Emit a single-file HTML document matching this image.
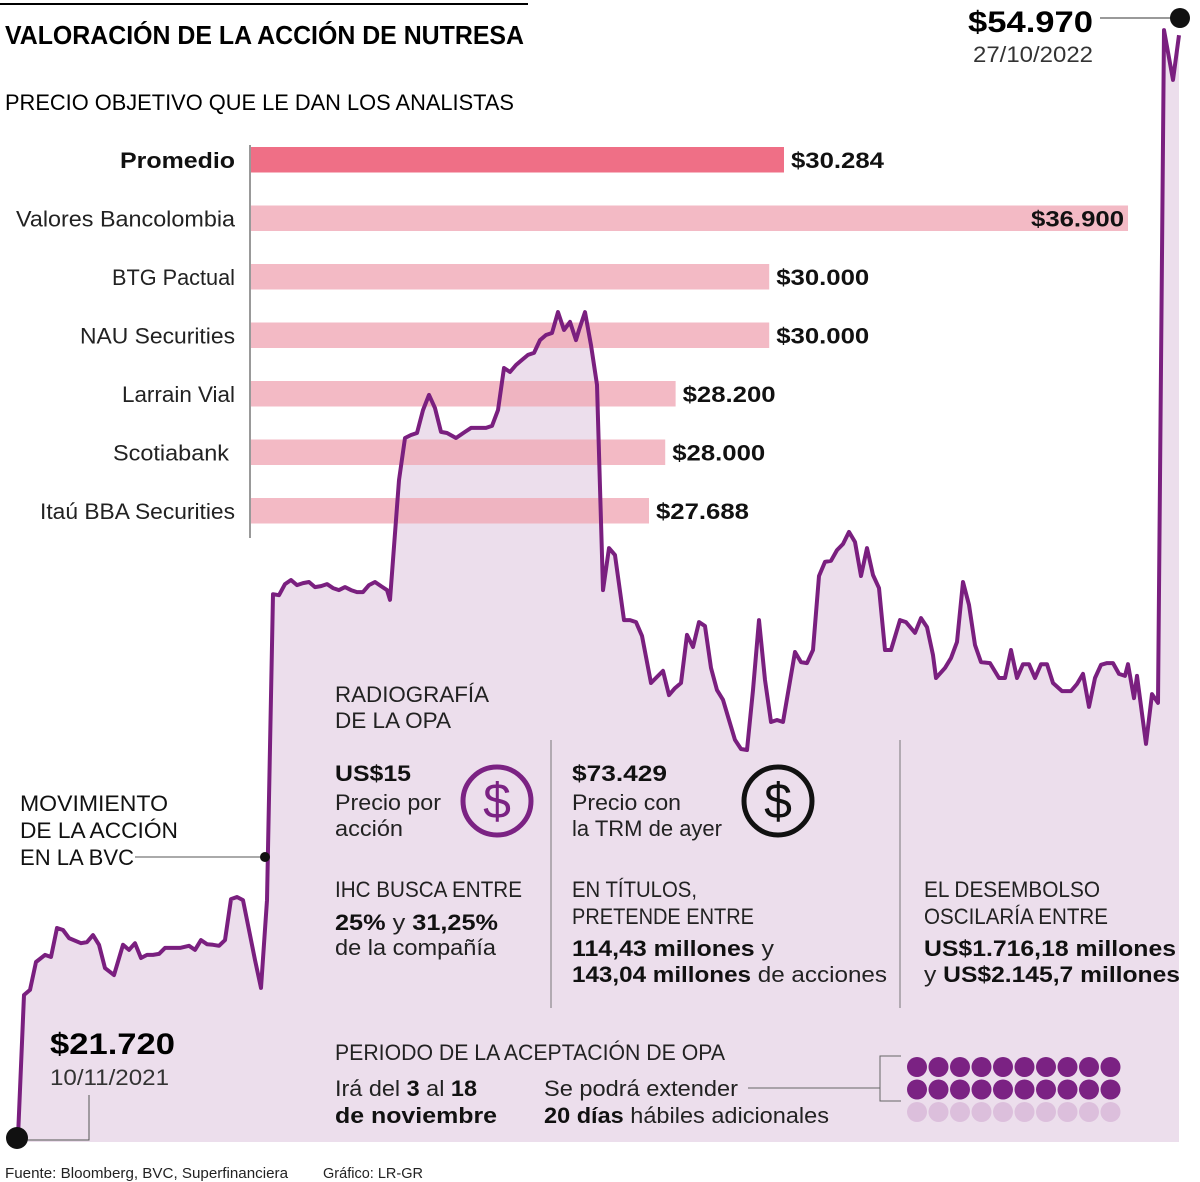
<!DOCTYPE html>
<html><head><meta charset="utf-8"><style>
html,body{margin:0;padding:0;background:#fff}
svg{display:block;font-family:"Liberation Sans",sans-serif}
.b{font-weight:bold}
</style></head><body>
<svg id="c" width="1200" height="1182" viewBox="0 0 1200 1182">
<g id="area"></g>
<g id="bars"></g>
<g id="line"></g>
<line x1="0" y1="4" x2="528" y2="4" stroke="#000" stroke-width="2"/>
<text x="5" y="44" font-size="26" class="b" textLength="519" lengthAdjust="spacingAndGlyphs">VALORACIÓN DE LA ACCIÓN DE NUTRESA</text>
<text x="5" y="110" font-size="22" textLength="509" lengthAdjust="spacingAndGlyphs">PRECIO OBJETIVO QUE LE DAN LOS ANALISTAS</text>
<line x1="250" y1="145" x2="250" y2="538" stroke="#333" stroke-width="1"/>

<line x1="1100" y1="18" x2="1180" y2="18" stroke="#333" stroke-width="1"/>
<circle cx="1180" cy="18" r="10" fill="#111"/>
<text x="968" y="32" font-size="30" class="b" textLength="125" lengthAdjust="spacingAndGlyphs">$54.970</text>
<text x="973" y="62" font-size="22" fill="#333" textLength="120" lengthAdjust="spacingAndGlyphs">27/10/2022</text>

<polyline points="89,1095 89,1140 18,1140" fill="none" stroke="#555" stroke-width="1"/>
<circle cx="17" cy="1138" r="11" fill="#111"/>
<text x="50" y="1054" font-size="30" class="b" textLength="125" lengthAdjust="spacingAndGlyphs">$21.720</text>
<text x="50" y="1085" font-size="22" fill="#333" textLength="119" lengthAdjust="spacingAndGlyphs">10/11/2021</text>

<g font-size="22" fill="#111">
<text x="20" y="811" textLength="148" lengthAdjust="spacingAndGlyphs">MOVIMIENTO</text>
<text x="20" y="838" textLength="158" lengthAdjust="spacingAndGlyphs">DE LA ACCIÓN</text>
<text x="20" y="865" textLength="114" lengthAdjust="spacingAndGlyphs">EN LA BVC</text>
</g>
<line x1="135" y1="857" x2="265" y2="857" stroke="#555" stroke-width="1"/>
<circle cx="265" cy="857" r="5" fill="#111"/>

<g font-size="22" fill="#222">
<text x="335" y="702" textLength="154" lengthAdjust="spacingAndGlyphs">RADIOGRAFÍA</text>
<text x="335" y="728" textLength="116" lengthAdjust="spacingAndGlyphs">DE LA OPA</text>
<line x1="551" y1="740" x2="551" y2="1008" stroke="#777" stroke-width="1"/>
<line x1="900" y1="740" x2="900" y2="1008" stroke="#777" stroke-width="1"/>
<text x="335" y="781" class="b" fill="#111" textLength="76" lengthAdjust="spacingAndGlyphs">US$15</text>
<text x="335" y="810" textLength="106" lengthAdjust="spacingAndGlyphs">Precio por</text>
<text x="335" y="836" textLength="68" lengthAdjust="spacingAndGlyphs">acción</text>
<circle cx="497" cy="801" r="34" fill="none" stroke="#7b2283" stroke-width="5"/>
<text x="497" y="818" font-size="50" fill="#7b2283" text-anchor="middle">$</text>
<text x="572" y="781" class="b" fill="#111" textLength="95" lengthAdjust="spacingAndGlyphs">$73.429</text>
<text x="572" y="810" textLength="109" lengthAdjust="spacingAndGlyphs">Precio con</text>
<text x="572" y="836" textLength="150" lengthAdjust="spacingAndGlyphs">la TRM de ayer</text>
<circle cx="778" cy="801" r="34" fill="none" stroke="#111" stroke-width="5"/>
<text x="778" y="818" font-size="50" fill="#111" text-anchor="middle">$</text>
<text x="335" y="897" textLength="187" lengthAdjust="spacingAndGlyphs">IHC BUSCA ENTRE</text>
<text x="335" y="930" textLength="163" lengthAdjust="spacingAndGlyphs"><tspan class="b" fill="#111">25%</tspan> y <tspan class="b" fill="#111">31,25%</tspan></text>
<text x="335" y="955" textLength="161" lengthAdjust="spacingAndGlyphs">de la compañía</text>
<text x="572" y="897" textLength="125" lengthAdjust="spacingAndGlyphs">EN TÍTULOS,</text>
<text x="572" y="924" textLength="182" lengthAdjust="spacingAndGlyphs">PRETENDE ENTRE</text>
<text x="572" y="956" textLength="202" lengthAdjust="spacingAndGlyphs"><tspan class="b" fill="#111">114,43 millones</tspan> y</text>
<text x="572" y="982" textLength="315" lengthAdjust="spacingAndGlyphs"><tspan class="b" fill="#111">143,04 millones</tspan> de acciones</text>
<text x="924" y="897" textLength="176" lengthAdjust="spacingAndGlyphs">EL DESEMBOLSO</text>
<text x="924" y="924" textLength="184" lengthAdjust="spacingAndGlyphs">OSCILARÍA ENTRE</text>
<text x="924" y="956" class="b" fill="#111" textLength="252" lengthAdjust="spacingAndGlyphs">US$1.716,18 millones</text>
<text x="924" y="982" textLength="256" lengthAdjust="spacingAndGlyphs">y <tspan class="b" fill="#111">US$2.145,7 millones</tspan></text>
<text x="335" y="1060" textLength="390" lengthAdjust="spacingAndGlyphs">PERIODO DE LA ACEPTACIÓN DE OPA</text>
<text x="335" y="1096" textLength="142" lengthAdjust="spacingAndGlyphs">Irá del <tspan class="b" fill="#111">3</tspan> al <tspan class="b" fill="#111">18</tspan></text>
<text x="335" y="1123" class="b" fill="#111" textLength="162" lengthAdjust="spacingAndGlyphs">de noviembre</text>
<text x="544" y="1096" textLength="194" lengthAdjust="spacingAndGlyphs">Se podrá extender</text>
<text x="544" y="1123" textLength="285" lengthAdjust="spacingAndGlyphs"><tspan class="b" fill="#111">20 días</tspan> hábiles adicionales</text>
<line x1="748" y1="1088" x2="880" y2="1088" stroke="#666" stroke-width="1"/>
<polyline points="901,1056 880,1056 880,1101 901,1101" fill="none" stroke="#666" stroke-width="1"/>
</g>
<g id="dots"></g>

<text x="5" y="1178" font-size="15" fill="#222" textLength="283" lengthAdjust="spacingAndGlyphs">Fuente: Bloomberg, BVC, Superfinanciera</text>
<text x="323" y="1178" font-size="15" fill="#222" textLength="100" lengthAdjust="spacingAndGlyphs">Gráfico: LR-GR</text>
</svg>
<script>
// Stock price series (thousands of COP), by session index
const sessions=[0,2,4,6,9,11,13,15,17,21,23,25,27,29,32,35,37,39,41,43,45,47,49,52,54,57,59,61,63,65,67,69,71,73,75,77,79,81,83,85,87,89,91,93,95,97,99,101,103,105,107,109,111,113,115,117,119,121,123,124,127,129,131,133,135,137,139,141,143,146,149,151,153,156,158,160,162,164,166,168,170,172,174,176,178,180,182,184,186,187,189,191,193,195,197,199,202,204,206,208,211,213,215,217,219,221,223,225,227,229,231,233,235,237,239,241,243,245,247,249,251,253,255,259,261,263,265,267,269,271,273,275,277,279,281,283,285,287,289,291,294,296,299,301,303,305,306,309,311,313,315,317,319,321,324,327,329,331,333,335,337,339,341,343,345,348,351,353,355,357,359,361,363,365,367,369,370,372,373,376,378,380,382,385,387];
const prices=[21.72,25.94,26.09,26.92,27.13,27.07,27.93,27.87,27.63,27.48,27.51,27.72,27.43,26.74,26.53,27.43,27.28,27.48,27.04,27.13,27.13,27.16,27.34,27.34,27.34,27.40,27.28,27.57,27.45,27.43,27.40,27.57,28.79,28.85,28.76,27.87,26.98,26.15,28.76,37.85,37.82,38.15,38.27,38.12,38.18,38.21,38.06,38.09,38.15,38.03,37.97,38.06,37.97,37.91,37.91,38.12,38.21,38.09,37.97,37.68,41.24,42.49,42.58,42.64,43.32,43.77,43.38,42.67,42.64,42.49,42.67,42.79,42.79,42.79,42.85,43.32,44.57,44.45,44.66,44.81,44.96,45.02,45.40,45.55,45.61,46.23,45.70,45.94,45.40,45.70,46.23,45.25,44.07,37.97,39.22,39.01,37.08,37.08,37.02,36.61,35.21,35.39,35.57,34.85,35.06,35.21,36.64,36.28,37.02,36.90,35.66,35.00,34.71,34.11,33.52,33.25,33.22,35.00,37.08,35.30,34.05,34.11,34.05,36.13,35.83,35.80,36.19,38.39,38.81,38.84,39.16,39.34,39.70,39.40,38.39,39.22,38.42,38.03,36.19,36.19,37.08,37.02,36.70,37.14,36.87,36.04,35.36,35.66,35.95,36.43,38.21,37.53,36.34,35.83,35.80,35.36,35.36,36.19,35.36,35.77,35.77,35.36,35.77,35.77,35.21,34.97,34.97,35.18,35.48,34.50,35.36,35.75,35.80,35.80,35.48,35.42,35.77,34.76,35.42,33.40,34.88,34.62,54.61,53.13,54.46];
// Analyst target prices
const analysts=["Promedio","Valores Bancolombia","BTG Pactual","NAU Securities","Larrain Vial","Scotiabank","Itaú BBA Securities"];
const targets=[30284,36900,30000,30000,28200,28000,27688];
const targetLabels=["$30.284","$36.900","$30.000","$30.000","$28.200","$28.000","$27.688"];
const labelWidths=[115,219,123,155,113,116,195];

const NS="http://www.w3.org/2000/svg";
const xS=t=>18+t*3;
const yS=p=>1137-(p-21.72)/0.029714;
const bx=v=>250+(v-20015)*0.052;
function mk(tag,attrs,parent){const e=document.createElementNS(NS,tag);for(const k in attrs)e.setAttribute(k,attrs[k]);parent.appendChild(e);return e;}

const pts=sessions.map((s,i)=>xS(s).toFixed(1)+","+yS(prices[i]).toFixed(1));
const area=mk("polygon",{points:xS(sessions[0])+",1142 "+pts.join(" ")+" "+xS(sessions[sessions.length-1])+",1142",fill:"#ecdeec"},document.getElementById("area"));


const line=mk("polyline",{points:pts.join(" "),fill:"none",stroke:"#7a1f7f","stroke-width":4,"stroke-linejoin":"round"},document.getElementById("line"));



const bg=document.getElementById("bars");
analysts.forEach((a,i)=>{
  const yTop=147+i*58.5, h=25.5;
  const r=mk("rect",{x:251,y:yTop,width:bx(targets[i])-251,height:h,fill:i===0?"#ef6f86":"#f0a9b6","fill-opacity":i===0?1:0.8},bg);
  
  
  const endX=i===5?229:235;
  const lt=mk("text",{x:endX-labelWidths[i],y:yTop+21,"font-size":22,fill:"#222",textLength:labelWidths[i],lengthAdjust:"spacingAndGlyphs"},bg);
  if(i===0){lt.setAttribute("font-weight","bold");lt.setAttribute("fill","#111");}
  lt.textContent=a;
  
  
  const inside=bx(targets[i])>1000;
  const vx=inside?bx(targets[i])-5-92:bx(targets[i])+7;
  const vt=mk("text",{x:vx,y:yTop+21,"font-size":22,"font-weight":"bold",fill:"#111",textLength:93,lengthAdjust:"spacingAndGlyphs"},bg);
  vt.textContent=targetLabels[i];
  
  
});

const dg=document.getElementById("dots");
for(let r=0;r<3;r++)for(let c=0;c<10;c++){
  const d=mk("circle",{cx:917+c*21.5,cy:1067+r*22.5,r:10,fill:r<2?"#7b2283":"#dcbfdc"},dg);
  
  
}
</script>
</body></html>
